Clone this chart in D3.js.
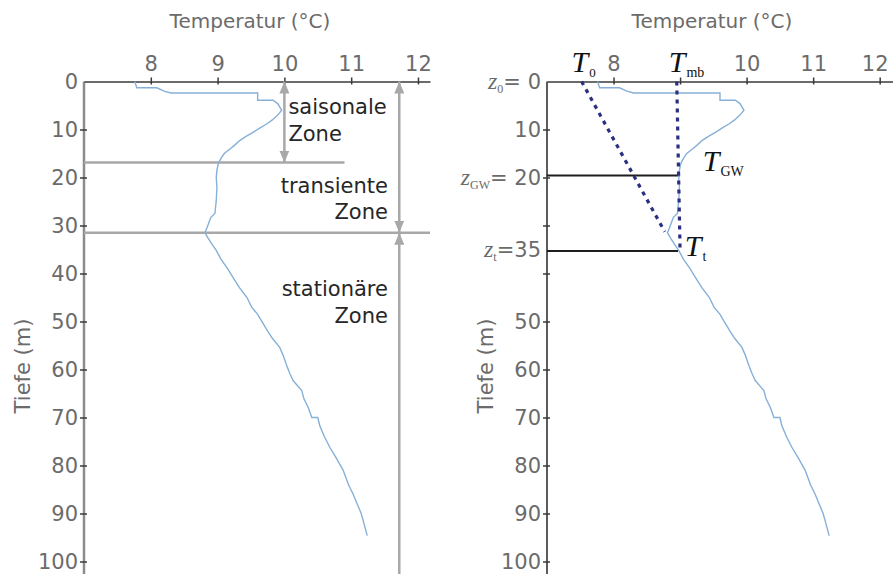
<!DOCTYPE html>
<html>
<head>
<meta charset="utf-8">
<script src="https://cdn.jsdelivr.net/npm/d3@7"></script>
<style>
body { margin: 0; background: #fff; }
svg { display: block; }
text { font-family: 'DejaVu Sans', sans-serif; }
</style>
</head>
<body>
<div id="chart"></div>
<script>
// temperature profile of the borehole
const profileDepth = [0, 1.3, 1.3, 2.0, 2.4, 2.4, 3.9, 3.9, 4.6, 6.0, 7.0, 8.0, 8.8, 9.7, 10.6, 11.5, 12.3, 13.2, 14.0, 15.0, 15.8, 17.1, 18.5, 20, 22, 24.8, 27.5, 28.3, 29, 30.5, 31.5, 32.7, 34, 35.2, 37, 39, 40.8, 43, 45, 47, 48.5, 50.4, 52, 53.5, 55.4, 57, 59, 60.8, 62.3, 64.4, 66, 68, 70, 70, 71.7, 74, 76.2, 78.5, 81, 84, 86, 88, 90, 92, 94.6]
const profileTemp = [7.76, 7.79, 8.09, 8.2, 8.3, 9.6, 9.6, 9.83, 9.9, 9.96, 9.9, 9.82, 9.74, 9.63, 9.53, 9.42, 9.33, 9.26, 9.19, 9.1, 9.06, 9.01, 8.99, 8.98, 8.99, 8.98, 8.96, 8.9, 8.88, 8.84, 8.81, 8.86, 8.92, 8.98, 9.05, 9.15, 9.23, 9.33, 9.44, 9.51, 9.6, 9.68, 9.75, 9.82, 9.93, 9.98, 10.03, 10.08, 10.13, 10.26, 10.29, 10.36, 10.41, 10.5, 10.53, 10.6, 10.68, 10.78, 10.88, 10.96, 11.03, 11.09, 11.15, 11.19, 11.24]

const tempTicks = [8, 9, 10, 11, 12]
const rightTempLabels = [8, 10, 11, 12]
const depthTicks = [0, 10, 20, 30, 40, 50, 60, 70, 80, 90, 100]
const rightDepthTicks = [10, 20, 30, 40, 50, 60, 70, 80, 90, 100]
const rightDepthLabels = [0, 10, 20, 35, 50, 60, 70, 80, 90, 100]
const rightDepthSubs = { 0: ['0', '= 0'], 20: ['GW', '= 20'], 35: ['t', '=35'] }

// left panel: zone boundaries (m) and the zone names
const zoneBounds = [16.9, 31.5]
const zoneNames = [['saisonale', 'Zone'], ['transiente', 'Zone'], ['stationäre', 'Zone']]

// right panel: model lines
const zGW = 19.6
const zT = 35.3
const t0Line = [[7.52, 0], [8.77, 31.3]]
const tmbLine = [[8.95, 0], [9.0, 35.3]]

const width = 893
const height = 574
const grey = '#6b6b6b'
const blue = '#86b0d8'
const navy = '#2b2f80'

const y = d3.scaleLinear().domain([0, 100]).range([81.5, 561.5])
const xL = d3.scaleLinear().domain([7, 12.18]).range([84, 430])
const xR = d3.scaleLinear().domain([7, 12.2]).range([547, 893])

const svg = d3.select('#chart')
    .append('svg')
    .attr('width', width)
    .attr('height', height)

const defs = svg.append('defs')
defs.append('marker')
    .attr('id', 'arrow')
    .attr('viewBox', '0 0 12 10')
    .attr('refX', 12)
    .attr('refY', 5)
    .attr('markerUnits', 'userSpaceOnUse')
    .attr('markerWidth', 12)
    .attr('markerHeight', 10)
    .attr('orient', 'auto-start-reverse')
    .append('path')
    .attr('d', 'M0,0 L12,5 L0,10 z')
    .attr('fill', '#a8a8a8')

const profile = profileDepth.map((d, i) => [profileTemp[i], d])

const drawPanel = (x, opts) => {
    const g = svg.append('g')

    // y axis line down to the bottom edge
    g.append('line')
        .attr('x1', x(7)).attr('x2', x(7))
        .attr('y1', y(0)).attr('y2', height)
        .attr('stroke', opts.yAxisColor)
        .attr('stroke-width', opts.yAxisWidth)

    const xAxis = d3.axisTop(x)
        .tickValues(tempTicks)
        .tickSize(4)
        .tickSizeOuter(0)
        .tickPadding(7)
        .tickFormat((d) => opts.xLabels.includes(d) ? d3.format('d')(d) : '')
    const gx = g.append('g')
        .attr('transform', `translate(0, ${y(0)})`)
        .call(xAxis)
    gx.select('.domain').attr('stroke', '#3a3a3a').attr('stroke-width', 1.6)
    gx.selectAll('.tick line').attr('y1', 3).attr('stroke', '#3a3a3a').attr('stroke-width', 1.5)
    gx.selectAll('.tick text')
        .attr('fill', grey)
        .attr('dx', (d) => d === 12 ? opts.lastShift : 0)
        .style('font-size', '21px')
        .style('font-family', "'DejaVu Sans', sans-serif")

    const yAxis = d3.axisLeft(y).tickValues(opts.yTicks).tickSize(4).tickSizeOuter(0).tickFormat('')
    const gy = g.append('g')
        .attr('transform', `translate(${x(7)}, 0)`)
        .call(yAxis)
    gy.select('.domain').remove()
    gy.selectAll('.tick line').attr('x1', 3).attr('stroke', '#3a3a3a').attr('stroke-width', 1.5)

    g.append('text')
        .attr('x', opts.titleX)
        .attr('y', 28)
        .attr('text-anchor', 'middle')
        .attr('fill', grey)
        .style('font-size', '20px')
        .text('Temperatur (°C)')

    g.append('text')
        .attr('transform', `translate(${opts.yTitleX}, 366) rotate(-90)`)
        .attr('text-anchor', 'middle')
        .attr('fill', grey)
        .style('font-size', '21px')
        .text('Tiefe (m)')

    return g
}

// ---------- left panel ----------
const left = drawPanel(xL, { yAxisColor: '#8c8c8c', yAxisWidth: 2.5, yTicks: depthTicks.slice(1), xLabels: tempTicks, lastShift: 0, titleX: 250, yTitleX: 30 })

left.selectAll('.ylab')
    .data(depthTicks)
    .enter()
    .append('text')
    .attr('x', xL(7) - 6)
    .attr('y', (d) => y(d))
    .attr('dy', '0.36em')
    .attr('text-anchor', 'end')
    .attr('fill', grey)
    .style('font-size', '21px')
    .text((d) => d)

left.selectAll('.zone')
    .data(zoneBounds)
    .enter()
    .append('line')
    .attr('x1', xL(7))
    .attr('x2', (d, i) => i === 0 ? xL(10.9) : xL(12.18))
    .attr('y1', (d) => y(d))
    .attr('y2', (d) => y(d))
    .attr('stroke', '#a8a8a8')
    .attr('stroke-width', 2.5)

const arrow = (x1, y1, y2, start, end) => {
    left.append('line')
        .attr('x1', x1).attr('x2', x1)
        .attr('y1', y1).attr('y2', y2)
        .attr('stroke', '#a8a8a8')
        .attr('stroke-width', 2.5)
        .attr('marker-start', start ? 'url(#arrow)' : null)
        .attr('marker-end', end ? 'url(#arrow)' : null)
}
arrow(xL(10), y(0), y(zoneBounds[0]), true, true)
arrow(xL(11.72), y(0), y(zoneBounds[1]), true, true)
arrow(xL(11.72), y(zoneBounds[1]), height, true, false)

const zoneText = [
    { lines: zoneNames[0], x: xL(10) + 4, anchor: 'start', depths: [6.8, 12.4] },
    { lines: zoneNames[1], x: xL(11.55), anchor: 'end', depths: [23.2, 28.6] },
    { lines: zoneNames[2], x: xL(11.55), anchor: 'end', depths: [44.7, 50.3] }
]
zoneText.forEach((z) => {
    z.lines.forEach((t, i) => {
        left.append('text')
            .attr('x', z.x)
            .attr('y', y(z.depths[i]))
            .attr('text-anchor', z.anchor)
            .attr('fill', '#262626')
            .style('font-size', '21px')
            .text(t)
    })
})

const lineL = d3.line().x((d) => xL(d[0])).y((d) => y(d[1]))
left.append('path')
    .attr('d', lineL(profile))
    .attr('fill', 'none')
    .attr('stroke', blue)
    .attr('stroke-width', 1.4)

// ---------- right panel ----------
const right = drawPanel(xR, { yAxisColor: '#333', yAxisWidth: 1.6, yTicks: rightDepthTicks, xLabels: rightTempLabels, lastShift: -5, titleX: 712, yTitleX: 493 })

rightDepthLabels.forEach((d) => {
    const t = right.append('text')
        .attr('x', xR(7) - 6)
        .attr('y', y(d))
        .attr('dy', '0.36em')
        .attr('text-anchor', 'end')
        .attr('fill', grey)
        .style('font-size', '21px')
    const sub = rightDepthSubs[d]
    if (sub) {
        t.append('tspan')
            .style('font-family', "'Liberation Serif', serif")
            .style('font-style', 'italic')
            .style('font-size', '24px')
            .text('z')
        t.append('tspan')
            .attr('dy', 4)
            .style('font-family', "'Liberation Serif', serif")
            .style('font-size', '12px')
            .text(sub[0])
        t.append('tspan')
            .attr('dy', -4)
            .text(sub[1])
    } else {
        t.text(d)
    }
})

right.selectAll('.zline')
    .data([[zGW, 9.0], [zT, 8.97]])
    .enter()
    .append('line')
    .attr('x1', xR(7))
    .attr('x2', (d) => xR(d[1]))
    .attr('y1', (d) => y(d[0]))
    .attr('y2', (d) => y(d[0]))
    .attr('stroke', '#1e1e1e')
    .attr('stroke-width', 2)

const lineR = d3.line().x((d) => xR(d[0])).y((d) => y(d[1]))
right.append('path')
    .attr('d', lineR(profile))
    .attr('fill', 'none')
    .attr('stroke', blue)
    .attr('stroke-width', 1.4)

;[t0Line, tmbLine].forEach((l) => {
    right.append('path')
        .attr('d', lineR(l))
        .attr('fill', 'none')
        .attr('stroke', navy)
        .attr('stroke-width', 3.2)
        .attr('stroke-dasharray', '4 5')
})

const tLabels = [
    { sub: '0', t: 7.37, d: -2, subSize: 13 },
    { sub: 'mb', t: 8.83, d: -2, subSize: 14 },
    { sub: 'GW', t: 9.34, d: 18.7, subSize: 14 },
    { sub: 't', t: 9.07, d: 36.3, subSize: 14 }
]
tLabels.forEach((l) => {
    const t = right.append('text')
        .attr('x', xR(l.t))
        .attr('y', y(l.d))
        .attr('fill', '#111')
        .style('font-family', "'Liberation Serif', serif")
    t.append('tspan')
        .style('font-style', 'italic')
        .style('font-size', '30px')
        .text('T')
    t.append('tspan')
        .attr('dx', 1)
        .attr('dy', 5)
        .style('font-size', l.subSize + 'px')
        .text(l.sub)
})
</script>
</body>
</html>
